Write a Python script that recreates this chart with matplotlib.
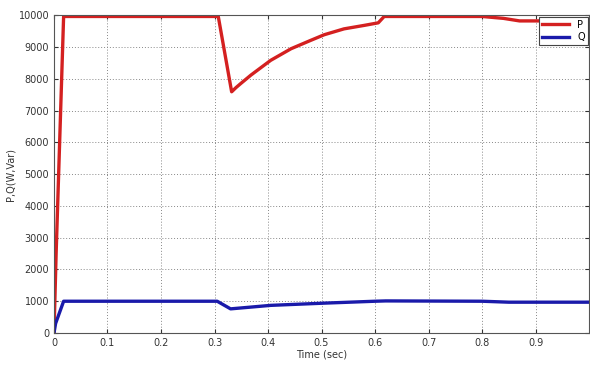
import matplotlib
matplotlib.use("Agg")
import matplotlib.pyplot as plt

# Data
t_P = [0.0, 0.004, 0.018, 0.307, 0.332, 0.340, 0.349, 0.368, 0.405, 0.443, 0.48, 0.505, 0.542, 0.58, 0.606, 0.617, 0.80, 0.84, 0.87, 1.0]
P = [0, 2500, 9960, 9960, 7590, 7720, 7850, 8115, 8580, 8945, 9210, 9385, 9570, 9680, 9760, 9960, 9960, 9900, 9820, 9820]

t_Q = [0.0, 0.003, 0.018, 0.305, 0.330, 0.405, 0.505, 0.60, 0.62, 0.80, 0.85, 1.0]
Q = [0, 300, 1000, 1000, 760, 870, 940, 1000, 1010, 1000, 970, 970]

xticks = [0, 0.1, 0.2, 0.3, 0.4, 0.5, 0.6, 0.7, 0.8, 0.9]
xtick_labels = ["0", "0.1", "0.2", "0.3", "0.4", "0.5", "0.6", "0.7", "0.8", "0.9"]
yticks = [0, 1000, 2000, 3000, 4000, 5000, 6000, 7000, 8000, 9000, 10000]

fig = plt.figure(figsize=(5.9, 3.67), dpi=100)
ax = fig.add_axes([0.0915, 0.0926, 0.907, 0.866])

ax.plot(t_P, P, color="#d42020", lw=2.4, label="P", solid_joinstyle="round")
ax.plot(t_Q, Q, color="#1a1aaa", lw=2.4, label="Q", solid_joinstyle="round")

ax.set_xlim(0, 1.0)
ax.set_ylim(0, 10000)
ax.set_xticks(xticks)
ax.set_xticklabels(xtick_labels)
ax.set_yticks(yticks)
ax.tick_params(direction="in", top=True, right=True, labelsize=7, colors="#333333", length=3)
ax.grid(True, linestyle=(0, (1, 2)), color="#888888", linewidth=0.7)
for s in ax.spines.values():
    s.set_color("#555555")
    s.set_linewidth(0.8)

ax.set_xlabel("Time (sec)", fontsize=7, color="#333333", labelpad=1)
ax.set_ylabel("P,Q(W,Var)", fontsize=7, color="#333333", labelpad=2)

leg = ax.legend(loc="upper right", fontsize=7, fancybox=False, framealpha=1,
                edgecolor="#444444", handlelength=2.8, borderaxespad=0.15,
                borderpad=0.3, labelspacing=0.3)
leg.get_frame().set_linewidth(0.8)

fig.savefig("out.png", dpi=100)
